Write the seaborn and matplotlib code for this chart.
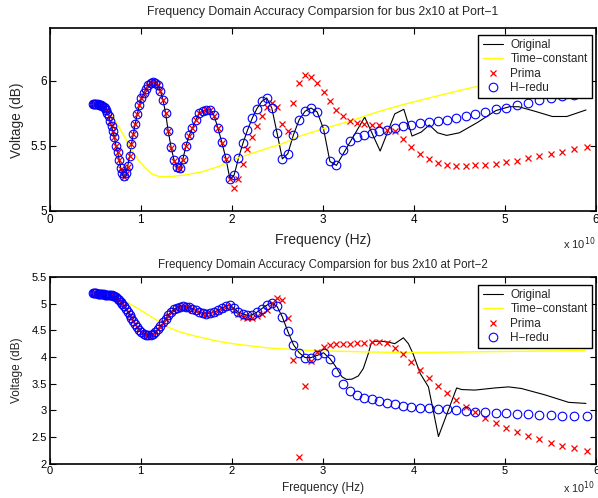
import matplotlib
matplotlib.use("Agg")
import matplotlib.pyplot as plt
import seaborn as sns
import pandas as pd
from matplotlib.ticker import FuncFormatter, FixedLocator

# ---------------- data (frequency in units of 1e10 Hz) ----------------
freq = [0.480, 0.491, 0.503, 0.515, 0.527, 0.539, 0.552, 0.565, 0.578, 0.592,
        0.606, 0.620, 0.634, 0.649, 0.664, 0.680, 0.696, 0.712, 0.729, 0.746,
        0.764, 0.782, 0.800, 0.819, 0.838, 0.858, 0.878, 0.899, 0.920, 0.941,
        0.964, 0.986, 1.009, 1.033, 1.057, 1.082, 1.108, 1.134, 1.160, 1.188,
        1.216, 1.244, 1.273, 1.303, 1.334, 1.365, 1.397, 1.430, 1.464, 1.498,
        1.533, 1.569, 1.606, 1.644, 1.683, 1.722, 1.763, 1.804, 1.847, 1.890,
        1.934, 1.980, 2.026, 2.074, 2.123, 2.173, 2.224, 2.276, 2.329, 2.384,
        2.440, 2.497, 2.556, 2.616, 2.678, 2.741, 2.805, 2.871, 2.938, 3.008,
        3.078, 3.150, 3.225, 3.300, 3.378, 3.457, 3.538, 3.622, 3.707, 3.794,
        3.883, 3.974, 4.068, 4.163, 4.261, 4.361, 4.464, 4.569, 4.676, 4.786,
        4.898, 5.013, 5.131, 5.252, 5.375, 5.502, 5.631, 5.763, 5.899]

# Port-1
p1_hredu = [5.82, 5.82, 5.82, 5.82, 5.818, 5.816, 5.814, 5.81, 5.805, 5.80,
            5.79, 5.775, 5.755, 5.725, 5.69, 5.65, 5.61, 5.565, 5.50, 5.45,
            5.395, 5.33, 5.29, 5.27, 5.29, 5.345, 5.42, 5.515, 5.59, 5.67,
            5.745, 5.81, 5.865, 5.905, 5.935, 5.965, 5.98, 5.987, 5.98, 5.965,
            5.92, 5.855, 5.755, 5.61, 5.49, 5.395, 5.34, 5.33, 5.40, 5.50,
            5.58, 5.635, 5.70, 5.75, 5.77, 5.777, 5.775, 5.735, 5.64, 5.53,
            5.41, 5.246, 5.275, 5.405, 5.52, 5.62, 5.71, 5.785, 5.84, 5.867,
            5.79, 5.60, 5.40, 5.44, 5.585, 5.70, 5.765, 5.79, 5.76, 5.63,
            5.38, 5.35, 5.47, 5.54, 5.57, 5.585, 5.60, 5.61, 5.62, 5.636,
            5.65, 5.66, 5.675, 5.68, 5.69, 5.70, 5.71, 5.73, 5.745, 5.76,
            5.78, 5.79, 5.815, 5.83, 5.85, 5.87, 5.88, 5.89, 5.905]
p1_prima = [5.82, 5.82, 5.82, 5.82, 5.818, 5.816, 5.814, 5.81, 5.805, 5.80,
            5.79, 5.775, 5.755, 5.725, 5.69, 5.65, 5.61, 5.565, 5.50, 5.45,
            5.39, 5.325, 5.28, 5.26, 5.28, 5.34, 5.42, 5.515, 5.59, 5.67,
            5.745, 5.81, 5.865, 5.905, 5.935, 5.965, 5.98, 5.987, 5.98, 5.965,
            5.92, 5.855, 5.755, 5.61, 5.485, 5.385, 5.33, 5.32, 5.39, 5.495,
            5.575, 5.635, 5.70, 5.75, 5.77, 5.777, 5.772, 5.73, 5.635, 5.525,
            5.40, 5.245, 5.175, 5.245, 5.36, 5.475, 5.57, 5.655, 5.73, 5.795,
            5.83, 5.80, 5.67, 5.615, 5.83, 5.98, 6.04, 6.03, 5.98, 5.913,
            5.84, 5.777, 5.725, 5.69, 5.675, 5.667, 5.66, 5.66, 5.62, 5.61,
            5.55, 5.49, 5.44, 5.40, 5.37, 5.354, 5.346, 5.346, 5.35, 5.354,
            5.36, 5.375, 5.387, 5.405, 5.42, 5.44, 5.456, 5.475, 5.49]
p1_orig_tail_f = [3.46, 3.63, 3.79, 3.89, 3.98, 4.08, 4.17, 4.26, 4.36, 4.50,
                  4.70, 4.90, 5.05, 5.15, 5.33, 5.52, 5.68, 5.89]
p1_orig_tail_v = [5.72, 5.46, 5.745, 5.78, 5.575, 5.605, 5.66, 5.60, 5.58, 5.60,
                  5.68, 5.77, 5.80, 5.80, 5.765, 5.725, 5.725, 5.775]
p1_tc_f = [0.48, 0.55, 0.62, 0.67, 0.71, 0.755, 0.83, 0.90, 0.975, 1.05,
           1.12, 1.20, 1.27, 1.34, 1.49, 1.67, 1.85, 2.04, 2.30, 2.57,
           2.75, 3.00, 3.30, 3.60, 3.90, 4.30, 4.62, 5.00, 5.40, 5.90]
p1_tc_v = [5.82, 5.815, 5.79, 5.755, 5.705, 5.65, 5.56, 5.47, 5.39, 5.33,
           5.285, 5.265, 5.262, 5.265, 5.277, 5.30, 5.34, 5.40, 5.46, 5.52,
           5.575, 5.63, 5.69, 5.76, 5.82, 5.89, 5.944, 6.00, 6.06, 6.12]

# Port-2
p2_hredu = [5.20, 5.20, 5.20, 5.195, 5.19, 5.185, 5.18, 5.18, 5.175, 5.175,
            5.17, 5.17, 5.165, 5.16, 5.16, 5.155, 5.15, 5.14, 5.12, 5.09,
            5.06, 5.03, 4.99, 4.95, 4.90, 4.85, 4.79, 4.73, 4.67, 4.62,
            4.56, 4.51, 4.47, 4.44, 4.42, 4.41, 4.415, 4.43, 4.465, 4.52,
            4.58, 4.65, 4.72, 4.79, 4.85, 4.895, 4.925, 4.945, 4.95, 4.945,
            4.93, 4.905, 4.875, 4.85, 4.825, 4.815, 4.82, 4.84, 4.875, 4.915,
            4.955, 4.975, 4.91, 4.84, 4.81, 4.78, 4.79, 4.84, 4.905, 4.97,
            5.02, 4.95, 4.75, 4.48, 4.23, 4.08, 3.99, 3.99, 4.03, 4.08,
            3.97, 3.72, 3.49, 3.36, 3.29, 3.24, 3.21, 3.17, 3.13, 3.11,
            3.09, 3.07, 3.05, 3.04, 3.025, 3.02, 3.005, 2.99, 2.975, 2.96,
            2.955, 2.945, 2.93, 2.925, 2.91, 2.905, 2.90, 2.895, 2.895]
p2_prima = [5.20, 5.20, 5.20, 5.195, 5.19, 5.185, 5.18, 5.18, 5.175, 5.175,
            5.17, 5.17, 5.165, 5.16, 5.16, 5.155, 5.15, 5.14, 5.12, 5.09,
            5.06, 5.03, 4.99, 4.95, 4.90, 4.85, 4.79, 4.73, 4.67, 4.62,
            4.56, 4.51, 4.47, 4.44, 4.42, 4.41, 4.415, 4.43, 4.465, 4.52,
            4.57, 4.635, 4.705, 4.775, 4.835, 4.88, 4.91, 4.93, 4.935, 4.93,
            4.915, 4.89, 4.86, 4.835, 4.81, 4.80, 4.805, 4.825, 4.86, 4.895,
            4.93, 4.95, 4.88, 4.80, 4.75, 4.74, 4.74, 4.77, 4.81, 4.875,
            5.01, 5.11, 5.075, 4.73, 3.95, 2.13, 3.45, 3.93, 4.10, 4.19,
            4.22, 4.235, 4.24, 4.25, 4.26, 4.27, 4.28, 4.28, 4.26, 4.17,
            4.05, 3.91, 3.75, 3.61, 3.46, 3.32, 3.19, 3.07, 2.96, 2.85,
            2.76, 2.675, 2.59, 2.525, 2.46, 2.395, 2.34, 2.29, 2.235]
p2_orig_tail_f = [3.13, 3.21, 3.26, 3.32, 3.39, 3.445, 3.50, 3.53, 3.57, 3.645,
                  3.72, 3.79, 3.885, 3.94, 3.99, 4.07, 4.16, 4.27, 4.47, 4.525,
                  4.67, 4.89, 5.04, 5.18, 5.44, 5.70, 5.89]
p2_orig_tail_v = [3.85, 3.63, 3.58, 3.585, 3.645, 3.785, 4.065, 4.25, 4.295, 4.295,
                  4.28, 4.25, 4.36, 4.25, 4.065, 3.69, 3.44, 2.51, 3.42, 3.39,
                  3.38, 3.42, 3.44, 3.41, 3.29, 3.15, 3.13]
p2_tc_f = [0.48, 0.60, 0.70, 0.76, 0.83, 0.94, 1.03, 1.12, 1.21, 1.30,
           1.40, 1.49, 1.58, 1.67, 1.76, 1.85, 1.94, 2.035, 2.20, 2.40,
           2.60, 2.77, 3.00, 3.13, 3.50, 3.90, 4.30, 4.80, 5.30, 5.88]
p2_tc_v = [5.20, 5.18, 5.14, 5.10, 5.04, 4.94, 4.845, 4.75, 4.655, 4.56,
           4.49, 4.44, 4.40, 4.365, 4.33, 4.295, 4.27, 4.245, 4.21, 4.17,
           4.15, 4.13, 4.115, 4.11, 4.095, 4.085, 4.09, 4.10, 4.11, 4.12]

titles = ["Frequency Domain Accuracy Comparsion for bus 2x10 at Port\u22121",
          "Frequency Domain Accuracy Comparsion for bus 2x10 at Port\u22122"]
legend_labels = ["Original", "Time\u2212constant", "Prima", "H\u2212redu"]
x_ticks = [0, 1, 2, 3, 4, 5, 6]
y_ticks_top = [5, 5.5, 6]
y_ticks_bot = [2, 2.5, 3, 3.5, 4, 4.5, 5, 5.5]

# ---------------- styling ----------------
sns.set_theme(style="white")
plt.rcParams["font.family"] = ["Liberation Sans", "DejaVu Sans"]
plt.rcParams["axes.unicode_minus"] = True

W, H = 598, 498
fig = plt.figure(figsize=(W / 100, H / 100), dpi=100)
fig.patch.set_facecolor("white")

def fx(px):
    return px / W

def fy(py):
    return 1 - py / H

ax1 = fig.add_axes([fx(49.6), fy(211), fx(596) - fx(49.6), fy(28.5) - fy(211)])
ax2 = fig.add_axes([fx(49.6), fy(463.7), fx(596) - fx(49.6), fy(277) - fy(463.7)])


def draw(ax, hredu, prima, tail_f, tail_v, cut, tc_f, tc_v, ylim, yticks,
         tick_fs, leg_anchor, leg_fs):
    orig = pd.DataFrame({"f": freq[:cut] + tail_f, "v": hredu[:cut] + tail_v})
    tc = pd.DataFrame({"f": tc_f, "v": tc_v})
    pts = pd.DataFrame({"f": freq, "h": hredu, "p": prima})
    sns.lineplot(data=orig, x="f", y="v", ax=ax, color="black", lw=0.8,
                 estimator=None, sort=False, label=legend_labels[0])
    sns.lineplot(data=tc, x="f", y="v", ax=ax, color="#ffff00", lw=1.0,
                 estimator=None, sort=False, label=legend_labels[1])
    sns.lineplot(data=pts, x="f", y="p", ax=ax, color="red", linestyle="",
                 marker="x", markersize=4.5, markeredgewidth=0.9,
                 markeredgecolor="red", estimator=None, sort=False,
                 label=legend_labels[2])
    sns.lineplot(data=pts, x="f", y="h", ax=ax, color="blue", linestyle="",
                 marker="o", markersize=6.2, markerfacecolor="none",
                 markeredgewidth=0.8, markeredgecolor="blue", estimator=None,
                 sort=False, label=legend_labels[3])
    ax.set_xlim(0, 6)
    ax.set_ylim(*ylim)
    ax.xaxis.set_major_locator(FixedLocator(x_ticks))
    ax.yaxis.set_major_locator(FixedLocator(yticks))
    ax.yaxis.set_major_formatter(FuncFormatter(lambda v, p: "%g" % v))
    ax.xaxis.set_major_formatter(FuncFormatter(lambda v, p: "%g" % v))
    ax.tick_params(direction="in", length=4, width=0.8, top=True, right=True,
                   bottom=True, left=True, labelsize=tick_fs, pad=2,
                   colors="black")
    ax.set_xlabel("")
    ax.set_ylabel("")
    for s in ax.spines.values():
        s.set_visible(True)
        s.set_color("black")
        s.set_linewidth(1.2)
    ax.set_facecolor("white")
    leg = ax.legend(loc="upper right", bbox_to_anchor=leg_anchor,
                    borderaxespad=0, fontsize=leg_fs, frameon=True,
                    fancybox=False, edgecolor="black", framealpha=1,
                    handlelength=1.75, handletextpad=0.6, labelspacing=0.2,
                    borderpad=0.35, numpoints=1)
    leg.get_frame().set_linewidth(1.0)


draw(ax1, p1_hredu, p1_prima, p1_orig_tail_f, p1_orig_tail_v, 82,
     p1_tc_f, p1_tc_v, (5, 6.4), y_ticks_top, 8.5,
     ((591.7 - 49.6) / (596 - 49.6), 1 - (35 - 28.5) / (211 - 28.5)), 8.5)
draw(ax2, p2_hredu, p2_prima, p2_orig_tail_f, p2_orig_tail_v, 81,
     p2_tc_f, p2_tc_v, (2, 5.5), y_ticks_bot, 8,
     ((591.7 - 49.6) / (596 - 49.6), 1 - (285 - 277) / (463.7 - 277)), 8.5)

cx = fx(323)
fig.text(cx, fy(12), titles[0], ha="center", va="center", fontsize=8.8)
fig.text(cx, fy(265), titles[1], ha="center", va="center", fontsize=8.3)
fig.text(cx, fy(240), "Frequency (Hz)", ha="center", va="center", fontsize=10)
fig.text(cx, fy(488), "Frequency (Hz)", ha="center", va="center", fontsize=8.6)
fig.text(fx(17), fy(120), "Voltage (dB)", ha="center", va="center",
         rotation=90, fontsize=9.8)
fig.text(fx(17), fy(370), "Voltage (dB)", ha="center", va="center",
         rotation=90, fontsize=8.6)
fig.text(fx(563), fy(244), r"x 10$^{10}$", ha="left", va="center", fontsize=8)
fig.text(fx(563), fy(488), r"x 10$^{10}$", ha="left", va="center", fontsize=7.8)

fig.savefig("out.png", dpi=100, facecolor="white")
